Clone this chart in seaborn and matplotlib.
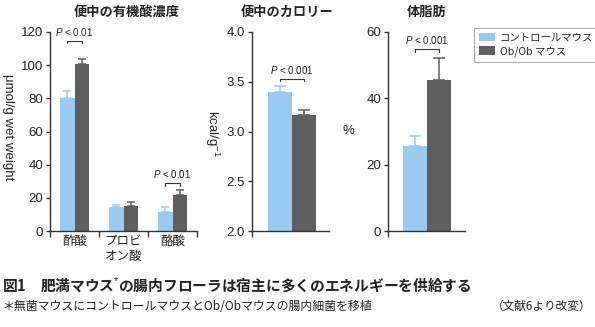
import matplotlib
matplotlib.use("Agg")
import matplotlib.pyplot as plt
import seaborn as sns
import pandas as pd
from matplotlib.patches import Patch

sns.set_theme(style="ticks")
plt.rcParams['font.family'] = ['Liberation Sans', 'Noto Sans CJK JP', 'DejaVu Sans']
plt.rcParams['mathtext.fontset'] = 'custom'
plt.rcParams['mathtext.it'] = 'Liberation Sans:italic'
plt.rcParams['mathtext.rm'] = 'Liberation Sans'
plt.rcParams['axes.unicode_minus'] = False

CJK = ['Noto Sans CJK JP', 'DejaVu Sans']

# ---- data ----
groups = ["コントロールマウス", "Ob/Ob マウス"]
colors = ["#99CBF1", "#5E5E5E"]

acid_cats = ["酢酸", "プロビ\nオン酸", "酪酸"]
acid_ctrl = [80.5, 14.3, 11.5]
acid_ctrl_err = [3.8, 1.3, 3.0]
acid_ob = [100.5, 14.8, 21.5]
acid_ob_err = [3.5, 2.5, 3.5]

cal_ctrl = [3.40]
cal_ctrl_err = [0.06]
cal_ob = [3.17]
cal_ob_err = [0.05]

fat_ctrl = [25.5]
fat_ctrl_err = [3.2]
fat_ob = [45.5]
fat_ob_err = [6.8]

W, H = 595, 327
fig = plt.figure(figsize=(W / 100, H / 100), dpi=100)


def axes_px(x0, x1, ytop, ybot):
    return fig.add_axes([x0 / W, 1 - ybot / H, (x1 - x0) / W, (ybot - ytop) / H])


def draw(ax, cats, ctrl, ctrl_err, ob, ob_err, capsize):
    df = pd.DataFrame({
        "cat": cats * 2,
        "grp": [groups[0]] * len(cats) + [groups[1]] * len(cats),
        "val": list(ctrl) + list(ob),
    })
    sns.barplot(data=df, x="cat", y="val", hue="grp", hue_order=groups,
                palette=colors, order=cats, width=0.6, errorbar=None,
                saturation=1, ax=ax, legend=False, linewidth=0)
    errs = [ctrl_err, ob_err]
    centers = []
    conts = list(ax.containers)
    for ci, cont in enumerate(conts):
        xs, tops = [], []
        for bar in cont.patches:
            xs.append(bar.get_x() + bar.get_width() / 2)
            tops.append(bar.get_height())
        centers.append(xs)
        ax.errorbar(xs, tops, yerr=[[0] * len(xs), errs[ci]], fmt="none",
                    ecolor=colors[ci], elinewidth=1.1, capsize=capsize,
                    capthick=1.1, zorder=3)
    return centers


def bracket(ax, x0, x1, y, ytxt, d, text="$P$ < 0.01"):
    ax.plot([x0, x0, x1, x1], [y - d, y, y, y - d], color="#333333", lw=0.8,
            clip_on=False)
    ax.text((x0 + x1) / 2, ytxt, text, ha="center", va="bottom", fontsize=7,
            color="#222222", clip_on=False)


def style(ax):
    for s in ["top", "right"]:
        ax.spines[s].set_visible(False)
    for s in ["left", "bottom"]:
        ax.spines[s].set_color("#333333")
        ax.spines[s].set_linewidth(1.0)
    ax.tick_params(axis="y", labelsize=9.5, colors="#333333", labelcolor="#222222",
                   length=3, width=1.0, pad=2)
    ax.tick_params(axis="x", length=0, labelsize=9, labelcolor="#222222", pad=3)
    ax.set_xlabel("")


def ylab(ax, text, rot, xc, yc):
    ax.set_ylabel(text, rotation=rot, fontsize=9.5, color="#222222")
    lab = ax.yaxis.label
    lab.set_rotation_mode("default")
    lab.set_va("center")
    lab.set_ha("center")
    ax.yaxis.set_label_coords(xc, yc)


# Panel 1
ax1 = axes_px(50, 197, 32, 231)
c1 = draw(ax1, acid_cats, acid_ctrl, acid_ctrl_err, acid_ob, acid_ob_err, 2.6)
ax1.set_xlim(-0.5, 2.5)
ax1.set_ylim(0, 120)
ax1.set_yticks([0, 20, 40, 60, 80, 100, 120])
style(ax1)
for t in ax1.get_xticklabels():
    t.set_family(CJK)
ax1.set_xticks([-0.5, 0.5, 1.5, 2.5], minor=True)
ax1.tick_params(axis="x", which="minor", length=4, width=1.0, color="#333333")
ylab(ax1, "μmol/g wet weight", -90, -0.285, 0.52)
bracket(ax1, c1[0][0], c1[1][0], 114.6, 116.3, 1.5, "$P$ < 0.01")
bracket(ax1, c1[0][2], c1[1][2], 28.9, 30.6, 1.5, "$P$ < 0.01")

# Panel 2
ax2 = axes_px(252, 329, 32, 231)
c2 = draw(ax2, ["a"], cal_ctrl, cal_ctrl_err, cal_ob, cal_ob_err, 4.5)
ax2.set_xlim(-0.5, 0.46)
ax2.set_ylim(2.0, 4.0)
ax2.set_yticks([2.0, 2.5, 3.0, 3.5, 4.0])
ax2.set_yticklabels(["2.0", "2.5", "3.0", "3.5", "4.0"])
style(ax2)
ax2.set_xticks([])
ax2.set_xticks([-0.5], minor=True)
ax2.tick_params(axis="x", which="minor", length=4, width=1.0, color="#333333")
ylab(ax2, "kcal/g$^{-1}$", -90, -0.52, 0.49)
bracket(ax2, c2[0][0], c2[1][0], 3.528, 3.556, 0.025, "$P$ < 0.001")

# Panel 3
ax3 = axes_px(388, 465, 32, 231)
c3 = draw(ax3, ["a"], fat_ctrl, fat_ctrl_err, fat_ob, fat_ob_err, 4.5)
ax3.set_xlim(-0.49, 0.475)
ax3.set_ylim(0, 60)
ax3.set_yticks([0, 20, 40, 60])
style(ax3)
ax3.set_xticks([])
ax3.set_xticks([-0.49], minor=True)
ax3.tick_params(axis="x", which="minor", length=4, width=1.0, color="#333333")
ylab(ax3, "%", 0, -0.52, 0.5)
bracket(ax3, c3[0][0], c3[1][0], 54.9, 55.8, 0.8, "$P$ < 0.001")

# Titles
for xc, t in [(127, "便中の有機酸濃度"), (287, "便中のカロリー"), (427, "体脂肪")]:
    fig.text(xc / W, 1 - 12 / H, t, ha="center", va="center", family=CJK,
             fontsize=9.5, fontweight="bold", color="#222222")

# Legend
handles = [Patch(facecolor=c, edgecolor="none") for c in colors]
leg = fig.legend(handles, groups, loc="upper left",
                 bbox_to_anchor=(474 / W, 1 - 28 / H), fontsize=7.5,
                 frameon=True, fancybox=False, handlelength=1.6,
                 handleheight=0.9, handletextpad=0.4, borderpad=0.45,
                 labelspacing=0.35, borderaxespad=0)
leg.get_frame().set_edgecolor("#999999")
leg.get_frame().set_linewidth(0.8)
for t in leg.get_texts():
    t.set_family(CJK)

# Caption
fig.text(2 / W, 1 - 285 / H, "図1　肥満マウス$^{*}$の腸内フローラは宿主に多くのエネルギーを供給する",
         ha="left", va="center", fontsize=10.6, fontweight="bold", color="#222222",
         family=CJK)
fig.text(2 / W, 1 - 306 / H, "＊無菌マウスにコントロールマウスとOb/Obマウスの腸内細菌を移植",
         ha="left", va="center", fontsize=8.6, color="#222222", family=CJK)
fig.text(591 / W, 1 - 306 / H, "（文献6より改変）", ha="right", va="center",
         fontsize=8.4, color="#222222", family=CJK)

fig.savefig("out.png", dpi=100)
